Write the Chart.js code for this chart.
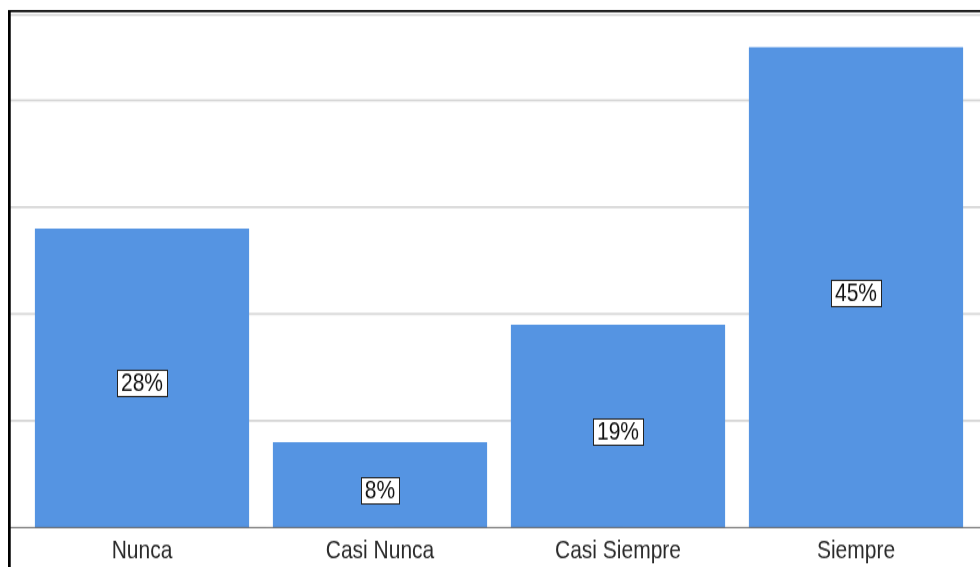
<!DOCTYPE html>
<html>
<head>
<meta charset="utf-8">
<title>Frecuencia</title>
<script src="https://cdn.jsdelivr.net/npm/chart.js@4"></script>
<style>
  html, body { margin: 0; padding: 0; background: #ffffff; overflow: hidden; }
  #wrap { width: 980px; height: 567px; overflow: hidden; }
  /* the chart is drawn at a shorter height and stretched to fill the box */
  #myChart { width: 980px; height: 454px; transform: scaleY(1.2489); transform-origin: 0 0; }
</style>
</head>
<body>
<div id="wrap"><canvas id="myChart" width="980" height="454"></canvas></div>
<script>
// percentage bars per answer

var categories = ["Nunca", "Casi Nunca", "Casi Siempre", "Siempre"];
var percentages = [28, 8, 19, 45];
var yMax = 48;
var yStep = 10;

// frame, grid lines and base line behind the bars
var framePlugin = {
  id: "frame",
  beforeDatasetsDraw: function (chart) {
    var ctx = chart.ctx;
    var y = chart.scales.y;
    var w = chart.width;
    ctx.save();

    ctx.strokeStyle = "#d6d6d6";
    ctx.lineWidth = 1.6;
    y.ticks.forEach(function (t) {
      if (t.value <= 0) return;
      var py = y.getPixelForValue(t.value);
      ctx.beginPath();
      ctx.moveTo(10, py);
      ctx.lineTo(w, py);
      ctx.stroke();
    });

    ctx.restore();
  },
  afterDatasetsDraw: function (chart) {
    var ctx = chart.ctx;
    var y = chart.scales.y;
    var w = chart.width;
    var h = chart.height;
    ctx.save();

    // base line
    var base = y.getPixelForValue(0);
    ctx.strokeStyle = "#555555";
    ctx.lineWidth = 0.9;
    ctx.beginPath();
    ctx.moveTo(10, base);
    ctx.lineTo(w, base);
    ctx.stroke();

    // outer frame (top and left)
    ctx.strokeStyle = "#000000";
    ctx.lineWidth = 1.7;
    ctx.beginPath();
    ctx.moveTo(9.5, h);
    ctx.lineTo(9.5, 8.8);
    ctx.lineTo(w, 8.8);
    ctx.stroke();
    ctx.lineWidth = 2.6;
    ctx.beginPath();
    ctx.moveTo(9.3, h);
    ctx.lineTo(9.3, 8);
    ctx.stroke();

    ctx.restore();
  }
};

// boxed value labels in the middle of each bar
var valueLabels = {
  id: "valueLabels",
  afterDatasetsDraw: function (chart) {
    var ctx = chart.ctx;
    var meta = chart.getDatasetMeta(0);
    var values = chart.data.datasets[0].data;
    ctx.save();
    ctx.font = "21px 'Liberation Sans', Arial, sans-serif";
    ctx.textAlign = "center";
    ctx.textBaseline = "middle";
    meta.data.forEach(function (bar, i) {
      var p = bar.getProps(["x", "y", "base"], true);
      var text = values[i] + "%";
      var tw = ctx.measureText(text).width;
      var cy = (p.y + p.base) / 2 + 4;
      var bw = Math.round(tw + 8);
      var bh = 21;
      var bx = Math.round(p.x - bw / 2) + 0.5;
      var by = Math.round(cy - bh / 2) + 0.5;
      ctx.fillStyle = "#ffffff";
      ctx.fillRect(bx, by, bw, bh);
      ctx.strokeStyle = "#222222";
      ctx.lineWidth = 1;
      ctx.strokeRect(bx, by, bw, bh);
      ctx.fillStyle = "#111111";
      ctx.fillText(text, p.x, cy + 1);
    });
    ctx.restore();
  }
};

document.addEventListener("DOMContentLoaded", function () {
  var ctx = document.getElementById("myChart").getContext("2d");

  var chartData = {
    labels: categories,
    datasets: [{
      label: "Porcentaje",
      data: percentages,
      backgroundColor: "#5594e2",
      borderWidth: 0,
      categoryPercentage: 1.0,
      barPercentage: 0.9
    }]
  };

  var options = {
    responsive: false,
    devicePixelRatio: 1,
    animation: false,
    layout: {
      padding: { left: 23, right: 5, top: 12, bottom: -5.6 }
    },
    plugins: {
      legend: { display: false },
      tooltip: { enabled: false }
    },
    scales: {
      x: {
        grid: { display: false, drawTicks: false },
        border: { display: false },
        ticks: {
          color: "#2a2a2a",
          padding: 6,
          font: { family: "'Liberation Sans', Arial, sans-serif", size: 21 }
        }
      },
      y: {
        display: false,
        min: 0,
        max: yMax,
        ticks: { stepSize: yStep }
      }
    }
  };

  new Chart(ctx, {
    type: "bar",
    data: chartData,
    options: options,
    plugins: [framePlugin, valueLabels]
  });
});
</script>
</body>
</html>
